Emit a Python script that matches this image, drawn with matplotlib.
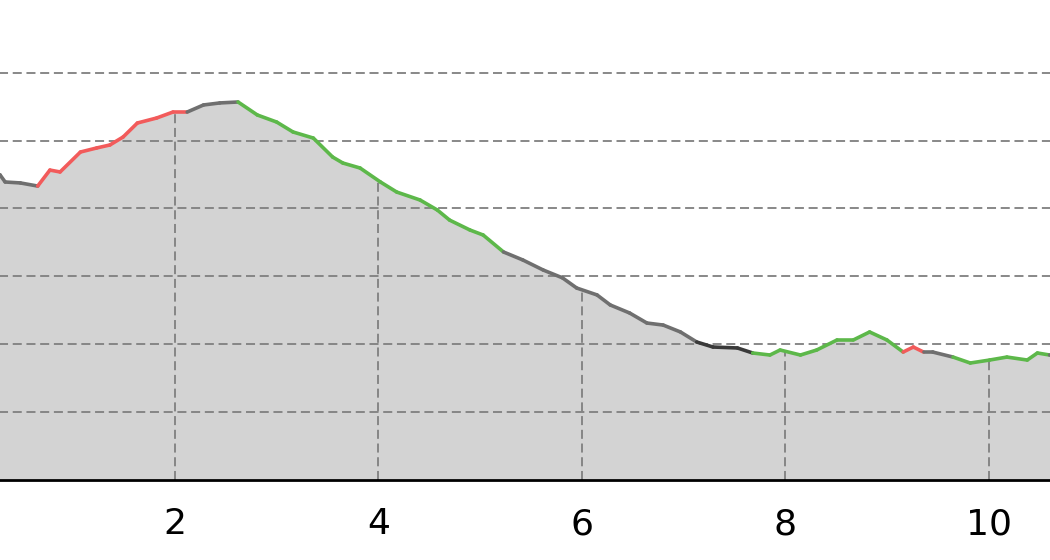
import numpy as np
import matplotlib
matplotlib.use("Agg")
import matplotlib.pyplot as plt
from matplotlib.collections import LineCollection

# distance (km) and elevation (m)
dist = [0.00, 0.28, 0.33, 0.48, 0.65, 0.77, 0.87, 1.07, 1.23, 1.36, 1.49, 1.63,
        1.82, 1.98, 2.12, 2.28, 2.44, 2.62, 2.81, 3.00, 3.16, 3.36, 3.55, 3.65,
        3.82, 4.02, 4.18, 4.41, 4.58, 4.70, 4.90, 5.03, 5.23, 5.42, 5.62, 5.81,
        5.95, 6.15, 6.28, 6.47, 6.64, 6.80, 6.97, 7.13, 7.29, 7.53, 7.68, 7.85,
        7.95, 8.15, 8.31, 8.51, 8.67, 8.83, 9.00, 9.16, 9.26, 9.36, 9.45, 9.65,
        9.82, 10.01, 10.18, 10.38, 10.48, 10.60, 10.80]
elev = [228.2, 224.6, 219.4, 218.7, 216.4, 228.2, 226.8, 241.5, 244.5, 246.7, 252.6, 262.9,
        266.6, 271.0, 271.0, 276.2, 277.7, 278.4, 268.8, 263.6, 256.3, 251.8, 237.8, 233.4,
        229.7, 219.4, 212.0, 206.1, 198.7, 191.3, 184.0, 180.3, 167.8, 161.9, 154.5, 148.7,
        141.2, 136.1, 128.7, 122.8, 115.4, 113.9, 108.8, 101.4, 97.7, 97.0, 93.3, 91.8,
        95.5, 91.8, 95.5, 102.9, 102.9, 108.8, 102.9, 94.0, 97.7, 94.0, 94.0, 90.3,
        85.9, 88.1, 90.3, 88.1, 93.3, 91.8, 91.0]
# grade class of the segment starting at each point
grade = (["flat"] * 4 + ["up"] * 10 + ["flat"] * 3 + ["down"] * 15 +
         ["flat"] * 11 + ["dark"] * 3 + ["down"] * 9 + ["up"] * 2 +
         ["flat"] * 2 + ["down"] * 6)

x_ticks = [2, 4, 6, 8, 10]
y_grid = [50, 100, 150, 200, 250, 300]

colors = {"up": "#f25b5b", "down": "#5db84a", "flat": "#6f6f6f", "dark": "#3a3a3a"}

W, H = 1050, 560
fig = plt.figure(figsize=(W / 100, H / 100), dpi=100)
px_per_km = 101.7
x0_px = -28.4
px_per_m = 1.356
y0_px = 479.5
xmax, ymax = 10.8, 345
ax = fig.add_axes([x0_px / W, (H - y0_px) / H, xmax * px_per_km / W, ymax * px_per_m / H])

x = np.array(dist)
y = np.array(elev)
ax.fill_between(x, 0, y, color="#d3d3d3", lw=0, zorder=1)

gcol = "#7f7f7f"
dash = (0, (5.0, 2.6))
for g in y_grid:
    ax.axhline(g, color=gcol, lw=1.3, ls=dash, zorder=2)
ax.vlines(x_ticks, 0, np.interp(x_ticks, x, y), color=gcol, lw=1.3, ls=dash, zorder=2)

pts = np.column_stack([x, y])
segs = np.stack([pts[:-1], pts[1:]], axis=1)
lc = LineCollection(segs, colors=[colors[g] for g in grade[:len(segs)]],
                    linewidths=2.6, capstyle="round", joinstyle="round", zorder=3)
ax.add_collection(lc)

ax.set_xlim(0, xmax)
ax.set_ylim(0, ymax)
ax.set_xticks(x_ticks)
ax.set_xticklabels([str(t) for t in x_ticks])
ax.set_yticks([])
ax.tick_params(axis="x", length=0, pad=20, labelsize=26)
for s in ["top", "right", "left"]:
    ax.spines[s].set_visible(False)
ax.spines["bottom"].set_linewidth(2.0)
ax.spines["bottom"].set_color("black")
ax.set_facecolor("white")

fig.savefig("out.png", dpi=100)
